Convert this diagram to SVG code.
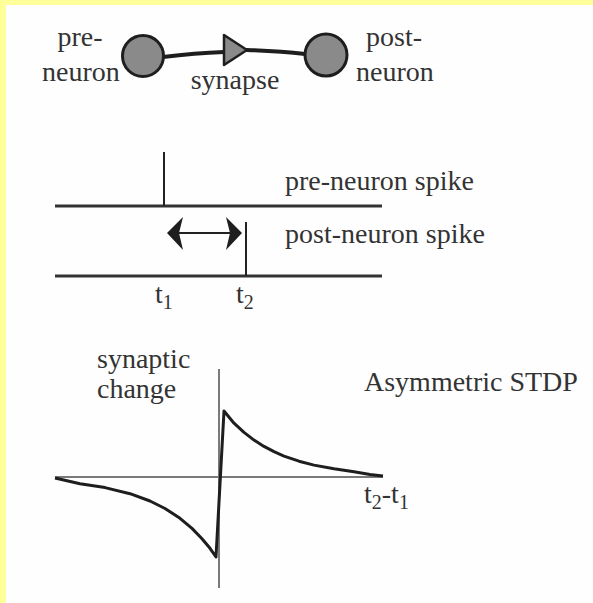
<svg xmlns="http://www.w3.org/2000/svg" width="593" height="603" viewBox="0 0 593 603">
<style>
text{font-family:'Liberation Serif','Times New Roman',Times,'DejaVu Serif',serif;font-size:28px;fill:#333}
.sub{font-size:20px}
.neuron{fill:#8a8a8a;stroke:#1e1e1e;stroke-width:3}
.conn{fill:none;stroke:#1e1e1e;stroke-width:4;stroke-linecap:round}
.base{stroke:#333;stroke-width:3;fill:none}
.spk{stroke:#222;stroke-width:2;fill:none}
.ax{stroke:#7a7a7a;stroke-width:2;fill:none}
.crv{stroke:#1e1e1e;stroke-width:3;fill:none;stroke-linejoin:round}
</style>
<rect x="0" y="0" width="593" height="603" fill="#ffff99"/>
<rect x="6" y="5" width="587" height="598" fill="#fefefe"/>

<g id="connectors">
<path class="conn" d="M163,57 Q195,53 224,52"/>
<path class="conn" d="M247,50 Q280,51 305,54"/>
</g>

<g id="pre-neuron">
<circle class="neuron" cx="143" cy="56" r="20.5"/>
<text x="80" y="46" text-anchor="middle">pre-</text>
<text x="81" y="81" text-anchor="middle">neuron</text>
</g>

<g id="synapse">
<polygon points="224,35 224,65 247,50" fill="#8a8a8a" stroke="#1e1e1e" stroke-width="2.5" stroke-linejoin="round"/>
<text x="235" y="89" text-anchor="middle">synapse</text>
</g>

<g id="post-neuron">
<circle class="neuron" cx="326" cy="55" r="21"/>
<text x="394" y="46" text-anchor="middle">post-</text>
<text x="395" y="81" text-anchor="middle">neuron</text>
</g>

<g id="spikes">
<line class="base" x1="55" y1="206" x2="382" y2="206"/>
<line class="spk" x1="164" y1="152" x2="164" y2="206"/>
<line class="base" x1="55" y1="276" x2="382" y2="276"/>
<line class="spk" x1="246" y1="222" x2="246" y2="276"/>
<line stroke="#222" stroke-width="2" x1="178" y1="233" x2="231" y2="233"/>
<polygon points="167,233 183,217 179,233 183,250" fill="#1e1e1e"/>
<polygon points="242,233 226,217 230,233 226,250" fill="#1e1e1e"/>
<text x="285" y="190">pre-neuron spike</text>
<text x="285" y="243">post-neuron spike</text>
<text x="155" y="303">t<tspan class="sub" dy="6">1</tspan></text>
<text x="236" y="303">t<tspan class="sub" dy="6">2</tspan></text>
</g>

<g id="stdp">
<line class="ax" x1="55" y1="477" x2="383" y2="477"/>
<line class="ax" x1="219" y1="369" x2="219" y2="588"/>
<path class="crv" d="M55,478 L80,483.7 L105,487.6 L130,493.7 L150,501 L165,508.5 L180,518.3 L192,528.4 L202,538.7 L210,548.3 L216,557 L224,411 L234,423.2 L244,432.4 L254,440.1 L264,446.4 L274,451.7 L284,456.1 L299,461.2 L314,465.1 L334,468.8 L354,471.8 L370,474.5 L383,476"/>
<text x="97" y="368">synaptic</text>
<text x="97" y="398">change</text>
<text x="364" y="391">Asymmetric STDP</text>
<text x="364" y="503">t<tspan class="sub" dy="6">2</tspan><tspan dy="-6">-t</tspan><tspan class="sub" dy="6">1</tspan></text>
</g>
</svg>
